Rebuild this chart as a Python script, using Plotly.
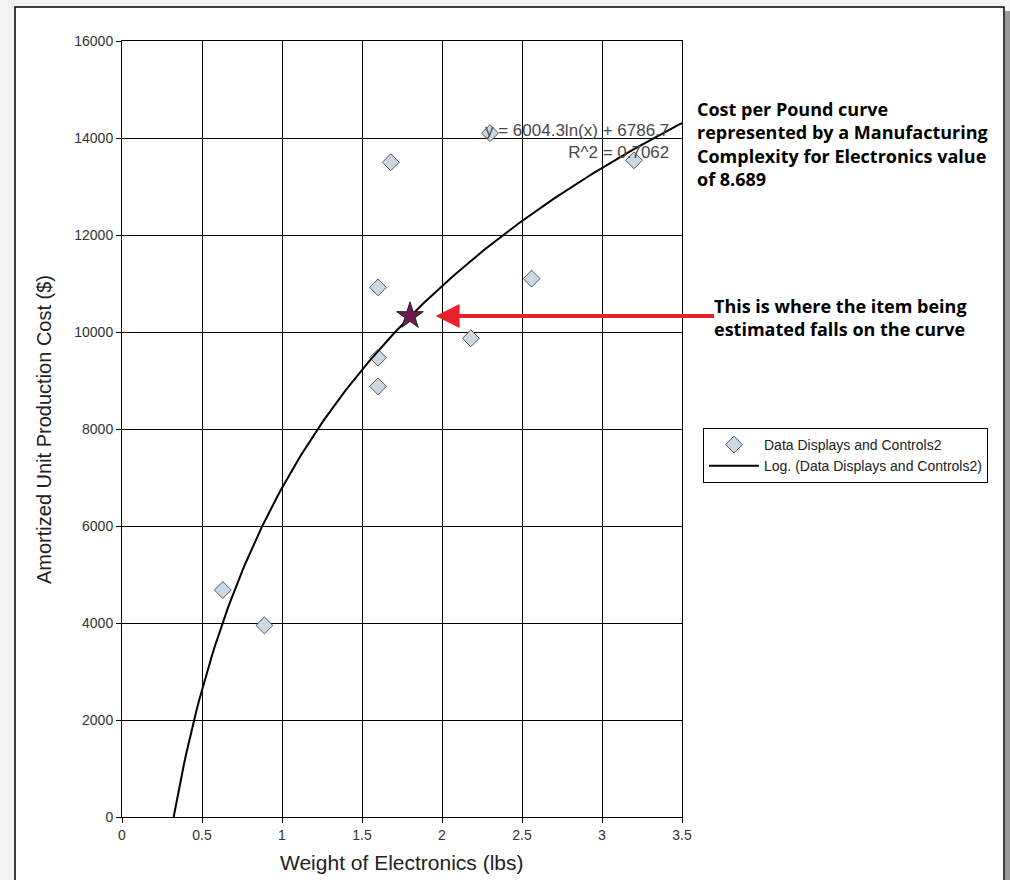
import numpy as np
import plotly.graph_objects as go

# ---- data ----
weight_lbs = [0.63, 0.89, 1.68, 1.60, 1.60, 1.60, 2.18, 2.56, 3.20, 2.30]
unit_cost = [4680, 3950, 13500, 10920, 9470, 8880, 9870, 11100, 13540, 14100]
estimate_x = [1.80]
estimate_y = [10330]
trend_a = 6004.3   # y = a*ln(x) + b
trend_b = 6786.7
r_squared = 0.7062
x_ticks = [0, 0.5, 1, 1.5, 2, 2.5, 3, 3.5]
y_ticks = [0, 2000, 4000, 6000, 8000, 10000, 12000, 14000, 16000]

# trendline from the stated coefficients
x_start = np.exp(-trend_b / trend_a)
trend_x = np.linspace(x_start, 3.5, 200)
trend_y = trend_a * np.log(trend_x) + trend_b

fig = go.Figure()
fig.add_trace(go.Scatter(
    x=weight_lbs, y=unit_cost, mode="markers", name="Data Displays and Controls2",
    marker=dict(symbol="diamond", size=13, color="#c9d8e4",
                line=dict(color="#555555", width=1))))
fig.add_trace(go.Scatter(
    x=trend_x, y=trend_y, mode="lines", name="Log. (Data Displays and Controls2)",
    line=dict(color="black", width=2)))
fig.add_trace(go.Scatter(
    x=estimate_x, y=estimate_y, mode="markers", showlegend=False,
    marker=dict(symbol="star", size=20, color="#6e1a52",
                line=dict(color="#222222", width=1))))

axis_font = dict(family="Liberation Sans, Arial", size=14, color="#333333")
fig.update_xaxes(range=[0, 3.5], tickvals=x_ticks, ticktext=[f"{v:g}" for v in x_ticks],
                 showgrid=True, gridcolor="black", gridwidth=1, zeroline=False,
                 showline=True, linecolor="black", linewidth=1, mirror=True,
                 ticks="outside", ticklen=5, tickcolor="black", tickfont=axis_font,
                 automargin=False)
fig.update_yaxes(range=[0, 16000], tickvals=y_ticks, ticktext=[str(v) for v in y_ticks],
                 showgrid=True, gridcolor="black", gridwidth=1, zeroline=False,
                 showline=True, linecolor="black", linewidth=1, mirror=True,
                 ticks="outside", ticklen=5, tickcolor="black", tickfont=axis_font,
                 automargin=False)

W, H = 1010, 880
L, T = 122, 41
PW, PH = 560, 776
R = W - L - PW
B = H - T - PH
def px(x):
    return (x - L) / PW
def py(y):
    return (T + PH - y) / PH

shapes = [
    dict(type="rect", xref="paper", yref="paper", x0=px(1005), x1=px(1011), y0=py(900), y1=py(11),
         fillcolor="#9a9a9a", line=dict(width=0), layer="below"),
    dict(type="rect", xref="paper", yref="paper", x0=px(15), x1=px(1004), y0=py(900), y1=py(7),
         fillcolor="white", line=dict(color="black", width=1.5), layer="below"),
]

title_font = dict(family="Liberation Sans, Arial", color="#222222")
annotations = [
    dict(xref="paper", yref="paper", x=px(402), y=py(862), xanchor="center", yanchor="middle",
         text="Weight of Electronics (lbs)", showarrow=False, font=dict(size=21, **title_font)),
    dict(xref="paper", yref="paper", x=px(44), y=py(430), xanchor="center", yanchor="middle",
         text="Amortized Unit Production Cost ($)", textangle=-90, showarrow=False,
         font=dict(size=20, **title_font)),
    dict(xref="paper", yref="paper", x=px(671), y=py(141), xanchor="right", yanchor="middle",
         text=f"y = {trend_a}ln(x) + {trend_b}<br>R^2 = {r_squared}", align="right", showarrow=False,
         font=dict(family="Liberation Sans, Arial", size=17, color="#4a4a4a")),
    dict(xref="paper", yref="paper", x=px(695), y=py(95), xanchor="left", yanchor="top",
         text="<b>Cost per Pound curve<br>represented by a Manufacturing<br>"
              "Complexity for Electronics value<br>of 8.689</b>",
         align="left", showarrow=False,
         font=dict(family="Open Sans", size=18, color="black")),
    dict(xref="paper", yref="paper", x=px(712), y=py(318), xanchor="left", yanchor="middle",
         text="<b>This is where the item being<br>estimated falls on the curve</b>",
         align="left", showarrow=False,
         font=dict(family="Open Sans", size=18, color="black")),
    dict(x=1.96, y=estimate_y[0], xref="x", yref="y", ax=280, ay=0, text="",
         showarrow=True, arrowhead=2, arrowsize=1.2, arrowwidth=4, arrowcolor="#e8202a",
         standoff=0),
]

fig.update_layout(
    width=W, height=H, margin=dict(l=L, r=R, t=T, b=B, autoexpand=False),
    paper_bgcolor="#f3f3f3", plot_bgcolor="#e3e3e3",
    shapes=shapes, annotations=annotations,
    legend=dict(x=px(703), y=py(428), xanchor="left", yanchor="top",
                bgcolor="white", bordercolor="black", borderwidth=1,
                font=dict(family="Liberation Sans, Arial", size=14, color="#222222"),
                tracegroupgap=0, itemwidth=50),
    showlegend=True,
)

fig.write_html("out.html", config={"displayModeBar": False},
               post_script="document.body.style.margin='0';document.body.style.overflow='hidden';")
